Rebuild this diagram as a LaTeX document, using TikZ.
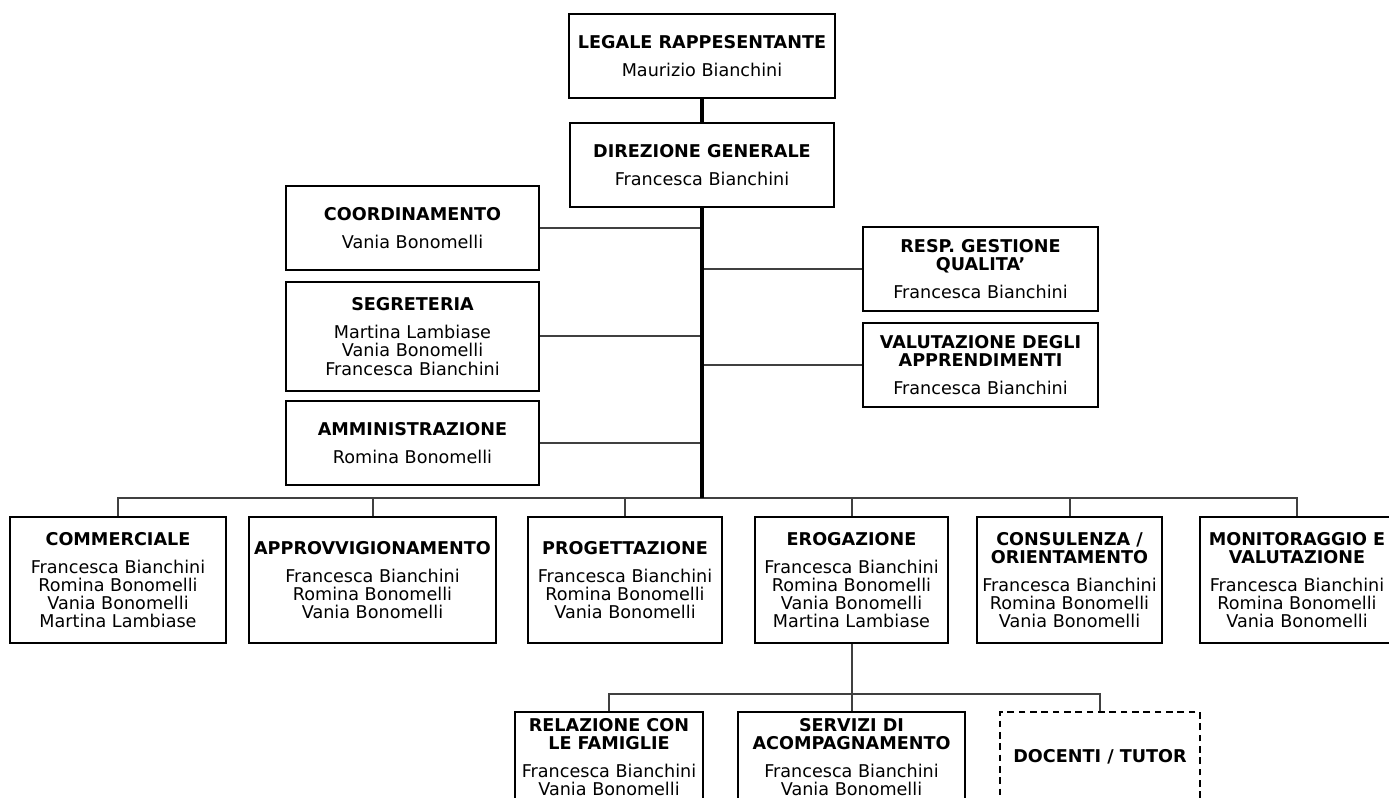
\documentclass[tikz,border=0pt]{standalone}
\usepackage{fontspec}
\setmainfont{DejaVu Sans}
\usetikzlibrary{positioning}

\begin{document}
\begin{tikzpicture}[
     x = 0.75pt, y = -0.75pt, % one unit = one pixel of the chart
     node font = \fontsize{13.2}{13.6}\selectfont, % text size
     semithick % line style
 ]

 \tikzstyle{unit}=[
     draw = black,
     line width = 1.5pt,
     fill = white,
     align = center,
     inner sep = 0pt
 ]
 \tikzstyle{openunit} = [unit, dash pattern = on 5pt off 3.5pt]
 \tikzstyle{link} = [line width = 1.5pt, black!75]
 \tikzstyle{spine} = [line width = 2.4pt, black]

 \useasboundingbox (0,0) rectangle (1389,798);
 \clip (0,0) rectangle (1389,798);

 % top of the chart
 \node[unit, minimum width = 199.5pt, minimum height = 63pt] (legale) at (702,56)
   {\bfseries LEGALE RAPPESENTANTE\\[7.5pt] Maurizio Bianchini};
 \node[unit, minimum width = 198pt, minimum height = 63pt] (dir) at (702,165)
   {\bfseries DIREZIONE GENERALE\\[7.5pt] Francesca Bianchini};

 % staff on the left
 \node[unit, minimum width = 189.75pt, minimum height = 63pt] (coord) at (412.5,228)
   {\bfseries COORDINAMENTO\\[7.5pt] Vania Bonomelli};
 \node[unit, minimum width = 189.75pt, minimum height = 81.75pt] (segr) at (412.5,336.5)
   {\bfseries SEGRETERIA\\[7.5pt] Martina Lambiase\\ Vania Bonomelli\\ Francesca Bianchini};
 \node[unit, minimum width = 189.75pt, minimum height = 63pt] (amm) at (412.5,443)
   {\bfseries AMMINISTRAZIONE\\[7.5pt] Romina Bonomelli};

 % staff on the right
 \node[unit, minimum width = 176.25pt, minimum height = 63pt] (resp) at (980.5,269)
   {\bfseries RESP. GESTIONE\\ \bfseries QUALITA’\\[7.5pt] Francesca Bianchini};
 \node[unit, minimum width = 176.25pt, minimum height = 63pt] (valut) at (980.5,365)
   {\bfseries VALUTAZIONE DEGLI\\ \bfseries APPRENDIMENTI\\[7.5pt] Francesca Bianchini};

 % functions
 \node[unit, minimum width = 162pt, minimum height = 94.5pt] (comm) at (118,580)
   {\bfseries COMMERCIALE\\[7.5pt] Francesca Bianchini\\ Romina Bonomelli\\ Vania Bonomelli\\ Martina Lambiase};
 \node[unit, minimum width = 185.25pt, minimum height = 94.5pt] (appr) at (372.5,580)
   {\bfseries APPROVVIGIONAMENTO\\[7.5pt] Francesca Bianchini\\ Romina Bonomelli\\ Vania Bonomelli};
 \node[unit, minimum width = 145.5pt, minimum height = 94.5pt] (prog) at (625,580)
   {\bfseries PROGETTAZIONE\\[7.5pt] Francesca Bianchini\\ Romina Bonomelli\\ Vania Bonomelli};
 \node[unit, minimum width = 144.75pt, minimum height = 94.5pt] (erog) at (851.5,580)
   {\bfseries EROGAZIONE\\[7.5pt] Francesca Bianchini\\ Romina Bonomelli\\ Vania Bonomelli\\ Martina Lambiase};
 \node[unit, minimum width = 138.75pt, minimum height = 94.5pt] (cons) at (1069.5,580)
   {\bfseries CONSULENZA /\\ \bfseries ORIENTAMENTO\\[7.5pt] Francesca Bianchini\\ Romina Bonomelli\\ Vania Bonomelli};
 \node[unit, minimum width = 145.5pt, minimum height = 94.5pt] (mon) at (1297,580)
   {\bfseries MONITORAGGIO E\\ \bfseries VALUTAZIONE\\[7.5pt] Francesca Bianchini\\ Romina Bonomelli\\ Vania Bonomelli};

 % under erogazione
 \node[unit, minimum width = 141pt, minimum height = 67.5pt] (rel) at (609,757)
   {\bfseries RELAZIONE CON\\ \bfseries LE FAMIGLIE\\[7.5pt] Francesca Bianchini\\ Vania Bonomelli};
 \node[unit, minimum width = 170.25pt, minimum height = 67.5pt] (serv) at (851.5,757)
   {\bfseries SERVIZI DI\\ \bfseries ACOMPAGNAMENTO\\[7.5pt] Francesca Bianchini\\ Vania Bonomelli};
 \node[openunit, minimum width = 150pt, minimum height = 67.5pt] (doc) at (1100,757)
   {\bfseries DOCENTI / TUTOR};

 \coordinate (hub) at (702,498);
 \coordinate (sub) at (852,694);

 \foreach \n in {coord, segr, amm}
   \draw[link] (\n.east) -- (\n.east -| hub);
 \foreach \n in {resp, valut}
   \draw[link] (\n.west) -- (\n.west -| hub);
 \draw[link] (comm.north) |- (mon.north |- hub) -- (mon.north);
 \foreach \n in {appr, prog, erog, cons}
   \draw[link] (\n.north) -- (\n.north |- hub);

 \draw[link] (erog.south) -- (erog.south |- sub);
 \draw[link] (rel.north) |- (sub) -| (doc.north);
 \draw[link] (serv.north) -- (serv.north |- sub);

 \draw[spine] (legale.south) -- (dir.north);
 \draw[spine] (dir.south) -- (hub);
\end{tikzpicture}
\end{document}
